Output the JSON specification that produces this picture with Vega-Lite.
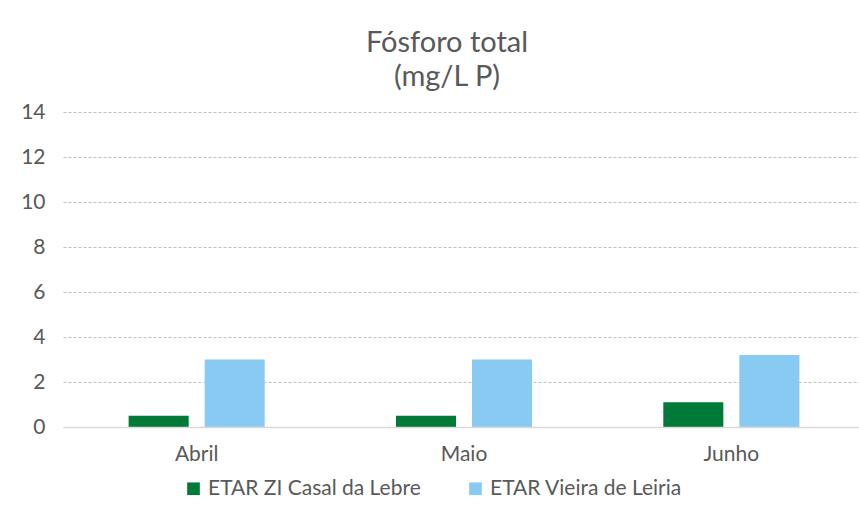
{
  "$schema": "https://vega.github.io/schema/vega-lite/v6.json",
  "autosize": "none",
  "width": 796,
  "height": 315,
  "padding": {"left": 63, "top": 112, "right": 0, "bottom": 92},
  "background": "white",
  "config": {
    "font": "Lato",
    "view": {"stroke": null},
    "axis": {"labelColor": "#595959", "labelFont": "Lato", "labelFontSize": 21}
  },
  "title": {
    "text": ["Fósforo total", "(mg/L P)"],
    "fontSize": 29,
    "font": "Lato",
    "fontWeight": "normal",
    "color": "#595959",
    "lineHeight": 34,
    "anchor": "middle",
    "frame": "group",
    "dx": -14,
    "offset": 9
  },
  "data": {
    "values": [
      {"mes": "Abril", "serie": "ETAR ZI Casal da Lebre", "valor": 0.5},
      {"mes": "Abril", "serie": "ETAR Vieira de Leiria", "valor": 3.0},
      {"mes": "Maio", "serie": "ETAR ZI Casal da Lebre", "valor": 0.5},
      {"mes": "Maio", "serie": "ETAR Vieira de Leiria", "valor": 3.0},
      {"mes": "Junho", "serie": "ETAR ZI Casal da Lebre", "valor": 1.1},
      {"mes": "Junho", "serie": "ETAR Vieira de Leiria", "valor": 3.2}
    ]
  },
  "mark": {"type": "bar"},
  "encoding": {
    "x": {
      "field": "mes",
      "type": "nominal",
      "sort": ["Abril", "Maio", "Junho"],
      "scale": {"range": [0, 802], "paddingInner": 0.491, "paddingOuter": 0.2455},
      "axis": {
        "title": null,
        "labelAngle": 0,
        "ticks": false,
        "domainColor": "#D9D9D9",
        "domainWidth": 1.5,
        "labelPadding": 16,
        "zindex": 1
      }
    },
    "xOffset": {
      "field": "serie",
      "type": "nominal",
      "sort": ["ETAR ZI Casal da Lebre", "ETAR Vieira de Leiria"],
      "scale": {"paddingInner": 0.2105, "paddingOuter": 0}
    },
    "y": {
      "field": "valor",
      "type": "quantitative",
      "scale": {"domain": [0, 14]},
      "axis": {
        "title": null,
        "values": [0, 2, 4, 6, 8, 10, 12, 14],
        "ticks": false,
        "domain": false,
        "gridColor": "#BFBFBF",
        "gridDash": [3, 2],
        "gridWidth": 1,
        "labelPadding": 18
      }
    },
    "color": {
      "field": "serie",
      "type": "nominal",
      "sort": ["ETAR ZI Casal da Lebre", "ETAR Vieira de Leiria"],
      "scale": {"range": ["#007A37", "#89CAF2"]},
      "legend": {
        "title": null,
        "orient": "none",
        "direction": "horizontal",
        "legendX": 120,
        "legendY": 366,
        "symbolType": "square",
        "symbolSize": 160,
        "symbolStrokeWidth": 0,
        "labelFontSize": 21,
        "labelLimit": 0,
        "labelColor": "#595959",
        "labelFont": "Lato",
        "labelOffset": 4,
        "columnPadding": 44
      }
    }
  }
}
